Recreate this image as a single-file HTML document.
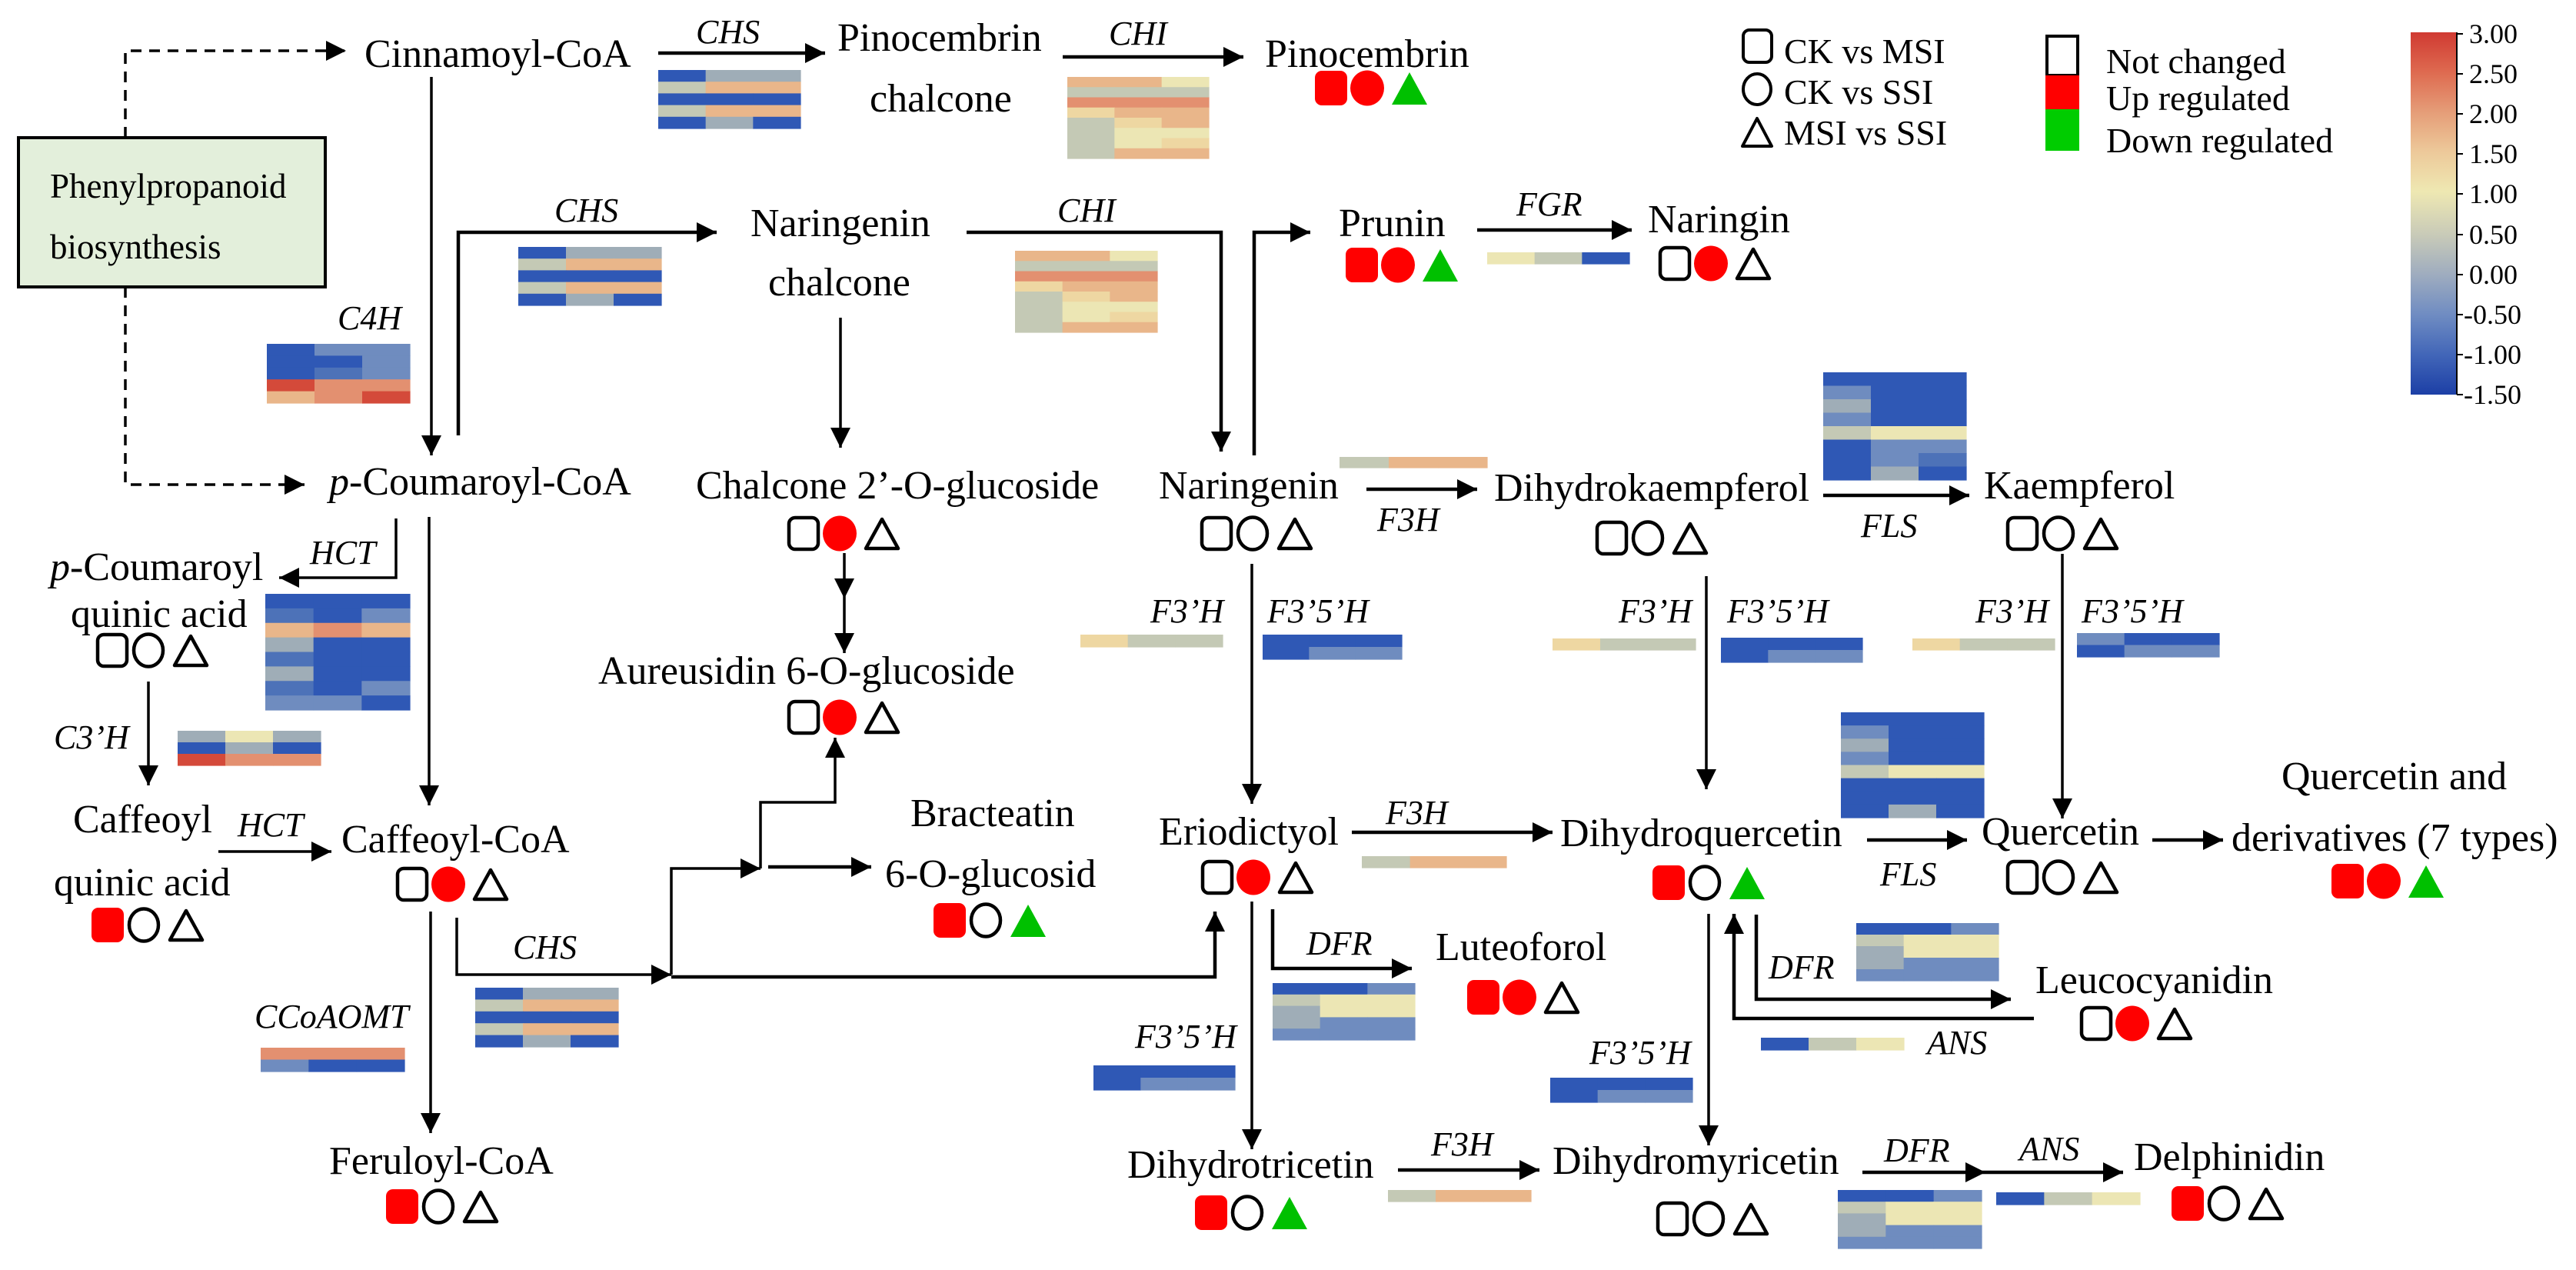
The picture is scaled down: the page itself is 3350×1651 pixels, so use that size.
<!DOCTYPE html>
<html><head><meta charset="utf-8"><style>
html,body{margin:0;padding:0;background:#fff;font-family:"Liberation Serif","Times New Roman","DejaVu Serif",serif;}
svg{display:block;font-family:"Liberation Serif","Times New Roman","DejaVu Serif",serif;}
svg text{font-family:"Liberation Serif","Times New Roman","DejaVu Serif",serif !important;fill:#000;}
.m{font-size:52px;}
.e{font-size:44px;font-style:italic;}
.l{font-size:46px;}
.c{font-size:36px;}
.ln{fill:none;stroke:#000;stroke-width:3.5;}
.h{fill:none;stroke:#000;stroke-width:4.5;}
</style></head><body>
<svg id="s" width="3350" height="1651" viewBox="0 0 3350 1651" xmlns="http://www.w3.org/2000/svg" font-family="Liberation Serif, serif">
<defs>
<marker id="a" viewBox="0 0 10 10" refX="10" refY="5" markerWidth="26" markerHeight="30" markerUnits="userSpaceOnUse" orient="auto"><path d="M0,0L10,5L0,10z" fill="#000"/></marker>
<linearGradient id="cb" x1="0" y1="0" x2="0" y2="1">
<stop offset="0" stop-color="#d03a32"/><stop offset="0.11" stop-color="#de6a50"/><stop offset="0.22" stop-color="#e59d78"/><stop offset="0.33" stop-color="#edc99a"/><stop offset="0.44" stop-color="#eee8b2"/><stop offset="0.56" stop-color="#c8cab8"/><stop offset="0.67" stop-color="#9eacbf"/><stop offset="0.78" stop-color="#6f8cc2"/><stop offset="0.89" stop-color="#4266b8"/><stop offset="1" stop-color="#1c3fa6"/>
</linearGradient>
</defs>
<g id="hm"></g>
<g id="tr"></g>
<rect x="24" y="179" width="399" height="194" fill="#e3efdb" stroke="#000" stroke-width="4"/>
<g font-family="Liberation Serif, serif">
<text x="65" y="257" style="font-size:45px">Phenylpropanoid</text>
<text x="65" y="336" style="font-size:45px">biosynthesis</text>
</g>
<path d="M163,179V66H450" fill="none" stroke="#000" stroke-width="3.5" stroke-dasharray="14,10" marker-end="url(#a)"/>
<path d="M163,373V630H396" fill="none" stroke="#000" stroke-width="3.5" stroke-dasharray="14,10" marker-end="url(#a)"/>
<g marker-end="url(#a)">
<path class="h" d="M856,69H1073"/>
<path class="h" d="M1382,74H1617"/>
<path class="ln" d="M561,100V592"/>
<path class="h" d="M596,566V302H932"/>
<path class="h" d="M1257,302H1588V587"/>
<path class="ln" d="M1093,413V582"/>
<path class="h" d="M1631,592V302H1704"/>
<path class="h" d="M1921,299H2122"/>
<path class="h" d="M1777,636H1921"/>
<path class="h" d="M2371,644H2561"/>
<path class="ln" d="M558,672V1047"/>
<path class="ln" d="M515,674V751H363"/>
<path class="ln" d="M1098,719V778"/>
<path class="ln" d="M1098,778V849"/>
<path class="ln" d="M193,886V1021"/>
<path class="ln" d="M284,1107H431"/>
<path class="ln" d="M560,1185V1473"/>
<path class="ln" d="M594,1193V1267H873"/>
<path class="h" d="M873,1270H1580V1185"/>
<path class="ln" d="M873,1267V1129H989"/>
<path class="ln" d="M989,1129V1043H1086V959"/>
<path class="h" d="M999,1127H1133"/>
<path class="ln" d="M1628,733V1045"/>
<path class="ln" d="M1628,1172V1494"/>
<path class="h" d="M1655,1182V1259H1836"/>
<path class="h" d="M1758,1082H2019"/>
<path class="ln" d="M2219,749V1026"/>
<path class="ln" d="M2682,720V1064"/>
<path class="h" d="M2428,1092H2558"/>
<path class="h" d="M2799,1092H2891"/>
<path class="h" d="M2284,1189V1299H2615"/>
<path class="h" d="M2645,1324H2255V1188"/>
<path class="ln" d="M2222,1188V1489"/>
<path class="h" d="M1818,1521H2002"/>
<path class="h" d="M2422,1524H2582"/>
<path class="h" d="M2582,1524H2761"/>
</g>
<g font-family="Liberation Serif, serif">
<text class="m" x="474" y="87">Cinnamoyl-CoA</text>
<text class="m" x="1089" y="66">Pinocembrin</text>
<text class="m" x="1131" y="145">chalcone</text>
<text class="m" x="1645" y="87">Pinocembrin</text>
<text class="m" x="976" y="307">Naringenin</text>
<text class="m" x="999" y="384">chalcone</text>
<text class="m" x="1741" y="307">Prunin</text>
<text class="m" x="2143" y="302">Naringin</text>
<text class="m" x="428" y="643"><tspan font-style="italic">p</tspan>-Coumaroyl-CoA</text>
<text class="m" x="905" y="648">Chalcone 2’-O-glucoside</text>
<text class="m" x="1507" y="648">Naringenin</text>
<text class="m" x="1943" y="651">Dihydrokaempferol</text>
<text class="m" x="2580" y="648">Kaempferol</text>
<text class="m" x="65" y="754"><tspan font-style="italic">p</tspan>-Coumaroyl</text>
<text class="m" x="92" y="815">quinic acid</text>
<text class="m" x="778" y="889">Aureusidin 6-O-glucoside</text>
<text class="m" x="95" y="1082">Caffeoyl</text>
<text class="m" x="70" y="1164">quinic acid</text>
<text class="m" x="444" y="1108">Caffeoyl-CoA</text>
<text class="m" x="1184" y="1074">Bracteatin</text>
<text class="m" x="1151" y="1153">6-O-glucosid</text>
<text class="m" x="1507" y="1098">Eriodictyol</text>
<text class="m" x="2029" y="1100">Dihydroquercetin</text>
<text class="m" x="2577" y="1098">Quercetin</text>
<text class="m" x="2967" y="1026">Quercetin and</text>
<text class="m" x="2902" y="1106">derivatives (7 types)</text>
<text class="m" x="1867" y="1248">Luteoforol</text>
<text class="m" x="2647" y="1291">Leucocyanidin</text>
<text class="m" x="428" y="1526">Feruloyl-CoA</text>
<text class="m" x="1466" y="1531">Dihydrotricetin</text>
<text class="m" x="2019" y="1526">Dihydromyricetin</text>
<text class="m" x="2775" y="1521">Delphinidin</text>
<text class="e" x="905" y="56">CHS</text>
<text class="e" x="1442" y="58">CHI</text>
<text class="e" x="721" y="288">CHS</text>
<text class="e" x="1375" y="288">CHI</text>
<text class="e" x="1972" y="280">FGR</text>
<text class="e" x="439" y="428">C4H</text>
<text class="e" x="1791" y="690">F3H</text>
<text class="e" x="2420" y="698">FLS</text>
<text class="e" x="403" y="733">HCT</text>
<text class="e" x="1496" y="809">F3’H</text>
<text class="e" x="1648" y="809">F3’5’H</text>
<text class="e" x="2105" y="809">F3’H</text>
<text class="e" x="2246" y="809">F3’5’H</text>
<text class="e" x="2569" y="809">F3’H</text>
<text class="e" x="2707" y="809">F3’5’H</text>
<text class="e" x="70" y="973">C3’H</text>
<text class="e" x="309" y="1087">HCT</text>
<text class="e" x="1802" y="1071">F3H</text>
<text class="e" x="2445" y="1151">FLS</text>
<text class="e" x="667" y="1246">CHS</text>
<text class="e" x="1699" y="1241">DFR</text>
<text class="e" x="2300" y="1272">DFR</text>
<text class="e" x="331" y="1336">CCoAOMT</text>
<text class="e" x="1476" y="1362">F3’5’H</text>
<text class="e" x="2506" y="1370">ANS</text>
<text class="e" x="2067" y="1383">F3’5’H</text>
<text class="e" x="1861" y="1502">F3H</text>
<text class="e" x="2450" y="1510">DFR</text>
<text class="e" x="2626" y="1508">ANS</text>
<text class="l" x="2320" y="82">CK vs MSI</text>
<text class="l" x="2320" y="135">CK vs SSI</text>
<text class="l" x="2320" y="188">MSI vs SSI</text>
<text class="l" x="2739" y="95">Not changed</text>
<text class="l" x="2739" y="143">Up regulated</text>
<text class="l" x="2739" y="198">Down regulated</text>
<text class="c" x="3211" y="56">3.00</text>
<text class="c" x="3211" y="108">2.50</text>
<text class="c" x="3211" y="160">2.00</text>
<text class="c" x="3211" y="212">1.50</text>
<text class="c" x="3211" y="264">1.00</text>
<text class="c" x="3211" y="317">0.50</text>
<text class="c" x="3211" y="369">0.00</text>
<text class="c" x="3204" y="421">-0.50</text>
<text class="c" x="3204" y="473">-1.00</text>
<text class="c" x="3204" y="525">-1.50</text>
</g>
<rect x="2267" y="39" width="37" height="42" rx="8" fill="none" stroke="#000" stroke-width="4"/>
<ellipse cx="2285" cy="116" rx="18" ry="20" fill="none" stroke="#000" stroke-width="4"/>
<polygon points="2266,190 2285,154 2304,190" fill="none" stroke="#000" stroke-width="4" stroke-linejoin="round"/>
<rect x="2662" y="47" width="40" height="51" fill="#fff" stroke="#000" stroke-width="4"/>
<rect x="2660" y="98" width="44" height="44" fill="#ff0000"/>
<rect x="2660" y="142" width="44" height="54" fill="#00cc00"/>
<rect x="3135" y="42" width="60" height="471" fill="url(#cb)"/>
<g stroke="#000" stroke-width="2">
<line x1="3195" y1="42" x2="3195" y2="513"/>
<line x1="3195" y1="44" x2="3203" y2="44"/><line x1="3195" y1="96" x2="3203" y2="96"/><line x1="3195" y1="148" x2="3203" y2="148"/><line x1="3195" y1="200" x2="3203" y2="200"/><line x1="3195" y1="252" x2="3203" y2="252"/><line x1="3195" y1="305" x2="3203" y2="305"/><line x1="3195" y1="357" x2="3203" y2="357"/><line x1="3195" y1="409" x2="3203" y2="409"/><line x1="3195" y1="461" x2="3203" y2="461"/><line x1="3195" y1="513" x2="3203" y2="513"/>
</g>
</svg>
<script>
var NS="http://www.w3.org/2000/svg";
var C={B:"#2f58b5",b:"#4d72b8",m:"#6f8cbf",g:"#9fadb7",s:"#c4c9b5",y:"#ece6b4",p:"#eed7a2",o:"#e9b68a",O:"#e39070",r:"#d44a3a"};
function el(p,t,a){var e=document.createElementNS(NS,t);for(var k in a)e.setAttribute(k,a[k]);p.appendChild(e);return e;}
var hm=document.getElementById("hm");
var CHS=["Bgg","soo","BBB","soo","BgB"],CHI=["ooy","sss","OOO","poo","spo","syy","syp","soo"],DFR=["BBm","syy","gyy","gmm","mmm"];
var H=[
[856,91,185,76,CHS],[1388,100,184,106,CHI],[674,321,186,76,CHS],[1320,326,185,106,CHI],
[347,447,186,77,["Bmm","BBm","Bbm","rOO","oOr"]],
[345,772,188,151,["BBB","bBm","oOo","gBB","bBB","gBB","bBm","mmB"]],
[231,950,186,45,["gyg","BgB","rOO"]],[339,1362,187,31,["OOO","mBB"]],[618,1284,186,77,CHS],
[1934,328,185,15,["ysB"]],[1742,594,192,14,["soo"]],
[2371,484,186,140,["BBB","mBB","gBB","mBB","syy","Bmm","Bmb","BgB"]],
[1405,825,185,16,["pss"]],[1642,825,181,32,["BBB","Bmm"]],
[2019,830,186,15,["pss"]],[2238,829,184,32,["BBB","Bmm"]],
[2487,830,185,15,["pss"]],[2701,823,185,31,["mBB","Bmm"]],
[2394,926,186,137,["BBB","mBB","gBB","mBB","syy","BBB","BBB","BgB"]],
[1771,1113,188,15,["soo"]],[1655,1278,185,74,DFR],[2414,1200,185,75,DFR],
[2290,1349,186,16,["Bsy"]],[1422,1385,184,32,["BBB","Bmm"]],[2016,1401,185,32,["BBB","Bmm"]],
[1805,1547,186,15,["soo"]],[2390,1547,187,76,DFR],[2596,1550,187,16,["Bsy"]]];
H.forEach(function(h){var rows=h[4],rh=h[3]/rows.length,cw=h[2]/3;
rows.forEach(function(r,i){for(var j=0;j<3;j++)el(hm,"rect",{x:h[0]+j*cw,y:h[1]+i*rh,width:cw+0.6,height:rh+0.6,fill:C[r[j]]});});});
var tr=document.getElementById("tr");
function trio(x,y,s){
var R="#ff0000",G="#00c000";
if(s[0]=="R")el(tr,"rect",{x:x,y:y,width:42,height:45,rx:9,fill:R});
else el(tr,"rect",{x:x+2,y:y+2,width:38,height:41,rx:8,fill:"none",stroke:"#000","stroke-width":4.5});
if(s[1]=="R")el(tr,"ellipse",{cx:x+68,cy:y+22.5,rx:22,ry:23,fill:R});
else el(tr,"ellipse",{cx:x+68,cy:y+22.5,rx:19,ry:21,fill:"none",stroke:"#000","stroke-width":4.5});
if(s[2]=="G")el(tr,"polygon",{points:(x+100)+","+(y+44)+" "+(x+123)+","+(y+2)+" "+(x+146)+","+(y+44),fill:G});
else el(tr,"polygon",{points:(x+102)+","+(y+42)+" "+(x+123)+","+(y+4)+" "+(x+144)+","+(y+42),fill:"none",stroke:"#000","stroke-width":4.5,"stroke-linejoin":"round"});}
[[1710,92,"RRG"],[1750,322,"RRG"],[2157,320,"NRN"],[1024,671,"NRN"],[1561,671,"NNN"],[2075,677,"NNN"],[2609,671,"NNN"],
[125,823,"NNN"],[1024,910,"NRN"],[119,1180,"RNN"],[515,1127,"NRN"],[1214,1174,"RNG"],[1562,1118,"NRN"],[2149,1125,"RNG"],
[2609,1118,"NNN"],[3032,1123,"RRG"],[1908,1274,"RRN"],[2705,1308,"NRN"],[502,1546,"RNN"],[1554,1554,"RNG"],[2154,1562,"NNN"],[2824,1542,"RNN"]
].forEach(function(t){trio(t[0],t[1],t[2]);});
</script>
</body></html>
